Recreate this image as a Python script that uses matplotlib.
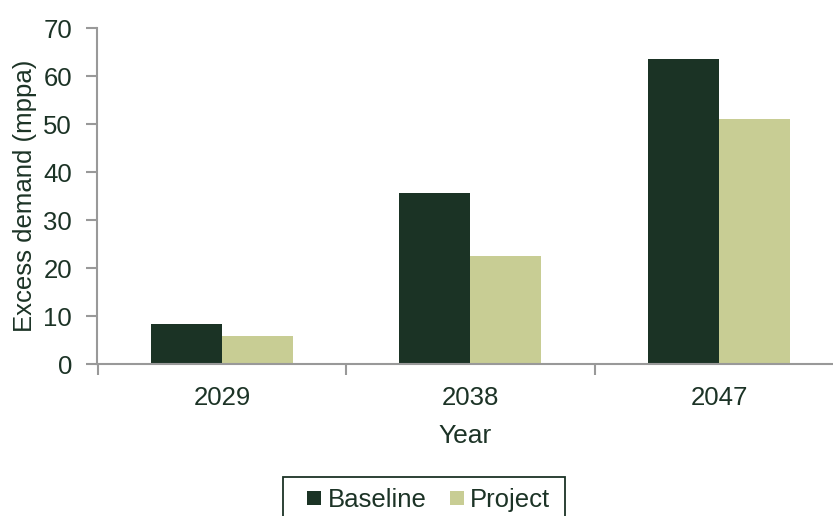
import matplotlib
matplotlib.use("Agg")
import matplotlib.pyplot as plt
from matplotlib.lines import Line2D
from matplotlib.patches import Rectangle
import numpy as np

years = ["2029", "2038", "2047"]
baseline = [8.4, 35.6, 63.6]
project = [5.9, 22.5, 51.0]
series_names = ["Baseline", "Project"]

dark = "#1b3325"
light = "#c8cd94"
textc = "#1c3326"
axc = "#999999"
fs = 18.5

plt.rcParams['font.family'] = ['Liberation Sans', 'DejaVu Sans']

W, H = 833, 516
fig = plt.figure(figsize=(W/100, H/100), dpi=100)
ax = fig.add_axes([97/W, 1-364/H, 1-97/W, (364-28.3)/H])

x = np.arange(len(years))
w = 0.2857
ax.bar(x - w/2, baseline, width=w, color=dark)
ax.bar(x + w/2, project, width=w, color=light)

ax.set_yticks(range(0, 71, 10))
ax.set_xticks([-0.5, 0.5, 1.5, 2.5])
ax.set_xticklabels([])
ax.set_xticks(x, minor=True)
ax.set_xticklabels(years, minor=True)

spacing = 248.5
xl = -0.503
ax.set_xlim(xl, xl + (W-97)/spacing)
ax.set_ylim(0, 70)

ax.tick_params(axis='x', which='minor', length=0, pad=15.5, labelsize=fs, labelcolor=textc)
ax.tick_params(axis='x', which='major', length=8, width=1.5, color=axc, direction='out')
ax.tick_params(axis='y', length=8, width=1.5, color=axc, labelsize=fs, labelcolor=textc, pad=10)

for s in ['top', 'right']:
    ax.spines[s].set_visible(False)
for s in ['left', 'bottom']:
    ax.spines[s].set_color(axc)
    ax.spines[s].set_linewidth(1.5)

ax.set_ylabel("Excess demand (mppa)", fontsize=fs, color=textc, labelpad=4.2)
ax.set_xlabel("Year", fontsize=19, color=textc, labelpad=10.7)

handles = [Line2D([], [], marker='s', linestyle='', markersize=9.4, markeredgewidth=0, color=dark),
           Line2D([], [], marker='s', linestyle='', markersize=9.4, markeredgewidth=0, color=light)]
leg = fig.legend(handles, series_names, loc='upper left', bbox_to_anchor=(308/W, 1-488/H), ncol=2,
                 fontsize=fs, frameon=False, handlelength=0.5, handletextpad=0.27,
                 columnspacing=0.93, borderpad=0, borderaxespad=0, labelcolor=textc)

fig.patches.append(Rectangle((283/W, 1-530/H), (565-283)/W, (530-477)/H,
                             transform=fig.transFigure, fill=False, edgecolor=dark,
                             linewidth=1.3, figure=fig))

fig.savefig("out.png", dpi=100)
